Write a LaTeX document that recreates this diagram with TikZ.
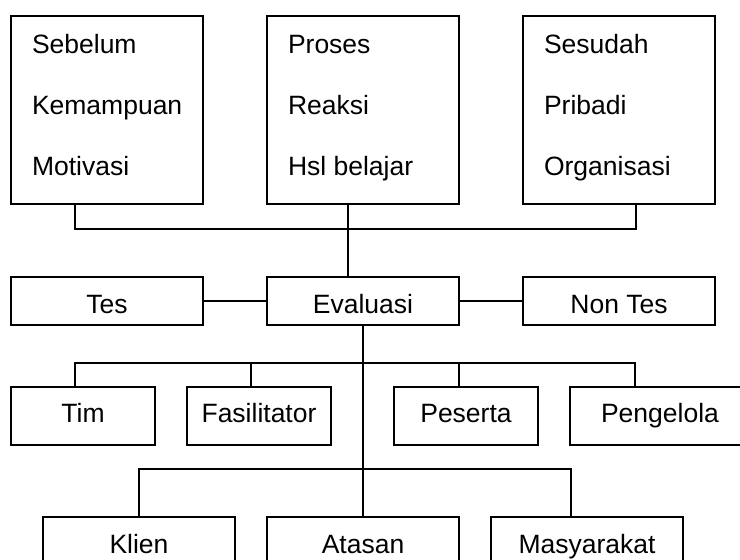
\documentclass[tikz,border=0pt]{standalone}
\usepackage{fontspec}
\setmainfont{Liberation Sans}
\usetikzlibrary{positioning}

\begin{document}
\begin{tikzpicture}[x=1pt, y=-1pt,
                    line width=1.8pt,
                    every node/.style = {text=black, outer sep=0pt, font=\fontsize{26.5}{31}\selectfont},
                    bigbox/.style = {draw, minimum width=192pt, minimum height=188pt, inner sep=0pt},
                    item/.style = {anchor=base west, inner sep=0pt},
                    midbox/.style = {draw, minimum width=192pt, minimum height=48pt, inner sep=0pt, text height=24pt, text depth=0pt},
                    smallbox/.style = {draw, minimum width=144pt, minimum height=58pt, inner sep=0pt, text height=18pt, text depth=6pt},
                    lowbox/.style = {draw, minimum width=192pt, minimum height=58pt, inner sep=0pt, text height=19pt, text depth=5pt}]
    \useasboundingbox (0,0) rectangle (740,560);
    \clip (0,0) rectangle (740,560);

    \node (sebelum) [bigbox] at (107,110) {};
    \node (proses) [bigbox, right = 64pt of sebelum] {};
    \node (sesudah) [bigbox, right = 64pt of proses] {};

    \node (sebelumA) [item] at ([shift={(21,37)}]sebelum.north west) {Sebelum};
    \node (sebelumB) [item] at ([shift={(0,61)}]sebelumA.base west) {Kemampuan};
    \node (sebelumC) [item] at ([shift={(0,61)}]sebelumB.base west) {Motivasi};
    \node (prosesA) [item] at ([shift={(21,37)}]proses.north west) {Proses};
    \node (prosesB) [item] at ([shift={(0,61)}]prosesA.base west) {Reaksi};
    \node (prosesC) [item] at ([shift={(0,61)}]prosesB.base west) {Hsl belajar};
    \node (sesudahA) [item] at ([shift={(21,37)}]sesudah.north west) {Sesudah};
    \node (sesudahB) [item] at ([shift={(0,61)}]sesudahA.base west) {Pribadi};
    \node (sesudahC) [item] at ([shift={(0,61)}]sesudahB.base west) {Organisasi};

    \node (tes) [midbox, below = 73pt of sebelum] {Tes};
    \node (evaluasi) [midbox, right = 64pt of tes] {Evaluasi};
    \node (nontes) [midbox, right = 64pt of evaluasi] {Non Tes};

    \node (tim) [smallbox] at (83,416) {Tim};
    \node (fasilitator) [smallbox, right = 32pt of tim] {Fasilitator};
    \node (peserta) [smallbox, right = 63pt of fasilitator] {Peserta};
    \node (pengelola) [smallbox, minimum width=180pt, right = 32pt of peserta] {Pengelola};

    \node (klien) [lowbox] at (139,546) {Klien};
    \node (atasan) [lowbox, right = 32pt of klien] {Atasan};
    \node (masyarakat) [lowbox, right = 32pt of atasan] {Masyarakat};

    \draw ([xshift=-32pt]sebelum.south) -- ++(0,25) -| ([xshift=17pt]sesudah.south);
    \draw ([xshift=-15pt]proses.south) -- ([xshift=-15pt]evaluasi.north);
    \draw (tes) -- (evaluasi);
    \draw (evaluasi) -- (nontes);
    \draw (evaluasi.south) -- (atasan.north);

    \draw ([xshift=-8pt]tim.north) -- ++(0,-24) -| ([xshift=-25pt]pengelola.north);
    \draw ([xshift=-8pt]fasilitator.north) -- ++(0,-24);
    \draw ([xshift=-7pt]peserta.north) -- ++(0,-24);

    \draw (klien.north) -- ++(0,-48) -| ([xshift=-16pt]masyarakat.north);
\end{tikzpicture}
\end{document}
